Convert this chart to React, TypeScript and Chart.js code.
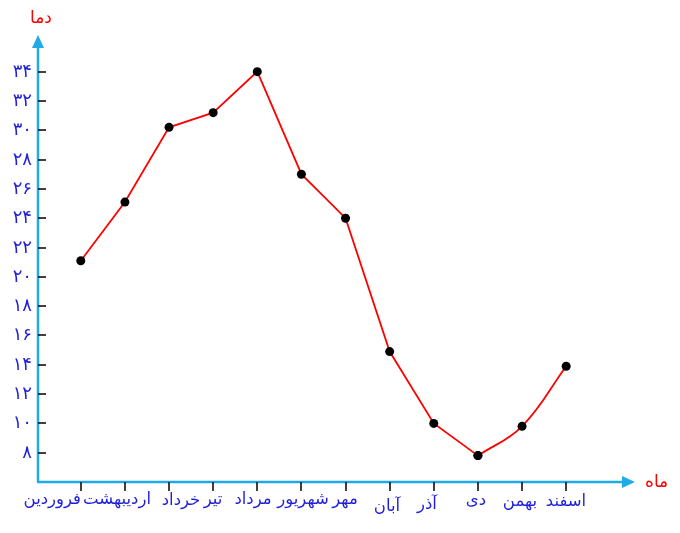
import React, { useEffect, useRef } from 'react';
import { Chart, registerables } from 'chart.js';

Chart.register(...registerables);

// ---- data ----
const months = ['فروردین', 'اردیبهشت', 'خرداد', 'تیر', 'مرداد', 'شهریور', 'مهر', 'آبان', 'آذر', 'دی', 'بهمن', 'اسفند'];
const temps = [21.1, 25.1, 30.2, 31.2, 34, 27, 24, 14.9, 10, 7.8, 9.8, 13.9];
const yTickValues = [8, 10, 12, 14, 16, 18, 20, 22, 24, 26, 28, 30, 32, 34];
const yTickLabels = ['۸', '۱۰', '۱۲', '۱۴', '۱۶', '۱۸', '۲۰', '۲۲', '۲۴', '۲۶', '۲۸', '۳۰', '۳۲', '۳۴'];
const yTitle = 'دما';
const xTitle = 'ماه';
// index where the line turns into a smooth curve
const curveStart = 9;

// label placement tweaks (text only)
const labelDx = [0, -8, 12, 0, -4, 2, -1, -3, -7, -2, -2, 0];
const labelDy = [0, 0, 1, 0, 0, 0, 0, 7, 5, 1, 2, 2];

const AXIS_COLOR = '#1fabe6';
const LABEL_COLOR = '#1f1fdc';
const TITLE_COLOR = '#ff0000';
const FONT = '"DejaVu Sans", sans-serif';

const axesPlugin = {
  id: 'customAxes',
  afterDraw(chart: any) {
    const { ctx, chartArea, scales } = chart;
    const { left, right, top, bottom } = chartArea;
    const x = scales.x;
    const y = scales.y;
    ctx.save();

    // axis lines
    ctx.strokeStyle = AXIS_COLOR;
    ctx.lineWidth = 2.5;
    ctx.beginPath();
    ctx.moveTo(left, bottom);
    ctx.lineTo(left, top + 10);
    ctx.stroke();
    ctx.beginPath();
    ctx.moveTo(left - 1, bottom);
    ctx.lineTo(right - 10, bottom);
    ctx.stroke();

    // arrow heads
    ctx.fillStyle = AXIS_COLOR;
    ctx.beginPath();
    ctx.moveTo(left, top);
    ctx.lineTo(left - 6, top + 13);
    ctx.lineTo(left + 6, top + 13);
    ctx.closePath();
    ctx.fill();
    ctx.beginPath();
    ctx.moveTo(right, bottom);
    ctx.lineTo(right - 13, bottom - 6);
    ctx.lineTo(right - 13, bottom + 6);
    ctx.closePath();
    ctx.fill();

    // y ticks and labels
    ctx.strokeStyle = '#000';
    ctx.lineWidth = 1.5;
    ctx.fillStyle = LABEL_COLOR;
    ctx.font = '18px ' + FONT;
    ctx.textAlign = 'right';
    ctx.textBaseline = 'middle';
    yTickValues.forEach((v, i) => {
      const py = Math.round(y.getPixelForValue(v));
      ctx.beginPath();
      ctx.moveTo(left, py);
      ctx.lineTo(left + 8, py);
      ctx.stroke();
      ctx.fillText(yTickLabels[i], left - 6, py);
    });

    // x ticks and labels
    ctx.font = '16.5px ' + FONT;
    ctx.textBaseline = 'alphabetic';
    months.forEach((m, i) => {
      const px = Math.round(x.getPixelForValue(i));
      ctx.beginPath();
      ctx.moveTo(px, bottom);
      ctx.lineTo(px, bottom + 9);
      ctx.stroke();
      ctx.textAlign = i === 0 ? 'right' : 'center';
      ctx.fillText(m, px + labelDx[i], bottom + 22 + labelDy[i]);
    });

    // axis titles
    ctx.font = '17px ' + FONT;
    ctx.fillStyle = TITLE_COLOR;
    ctx.textAlign = 'center';
    ctx.textBaseline = 'middle';
    ctx.fillText(yTitle, left + 3, top - 16);
    ctx.textAlign = 'left';
    ctx.fillText(xTitle, right + 10, bottom + 1);

    ctx.restore();
  },
};

export default function App() {
  const canvasRef = useRef<HTMLCanvasElement | null>(null);

  useEffect(() => {
    if (!canvasRef.current) return;
    const straight = temps.slice(0, curveStart + 1).map((t, i) => ({ x: i, y: t }));
    const curved = temps.slice(curveStart).map((t, i) => ({ x: i + curveStart, y: t }));
    const pointStyle = {
      pointRadius: 4.5,
      pointBackgroundColor: '#000',
      pointBorderColor: '#000',
      pointBorderWidth: 0,
      borderColor: '#ff0000',
      borderWidth: 1.8,
    };
    const chart = new Chart(canvasRef.current, {
      type: 'line',
      data: {
        datasets: [
          { data: straight, tension: 0, ...pointStyle },
          { data: curved, tension: 0.4, ...pointStyle },
        ],
      },
      options: {
        animation: false,
        responsive: false,
        layout: { padding: { left: 38, right: 45, top: 35, bottom: 51 } },
        plugins: { legend: { display: false }, tooltip: { enabled: false } },
        scales: {
          x: { type: 'linear', display: false, min: -0.97, max: 12.56 },
          y: { type: 'linear', display: false, min: 6, max: 36.5 },
        },
      },
      plugins: [axesPlugin],
    } as any);
    return () => chart.destroy();
  }, []);

  return (
    <div style={{ position: 'fixed', left: 0, top: 0, width: 680, height: 533, background: '#fff' }}>
      <canvas ref={canvasRef} width={680} height={533} style={{ display: 'block' }} />
    </div>
  );
}
